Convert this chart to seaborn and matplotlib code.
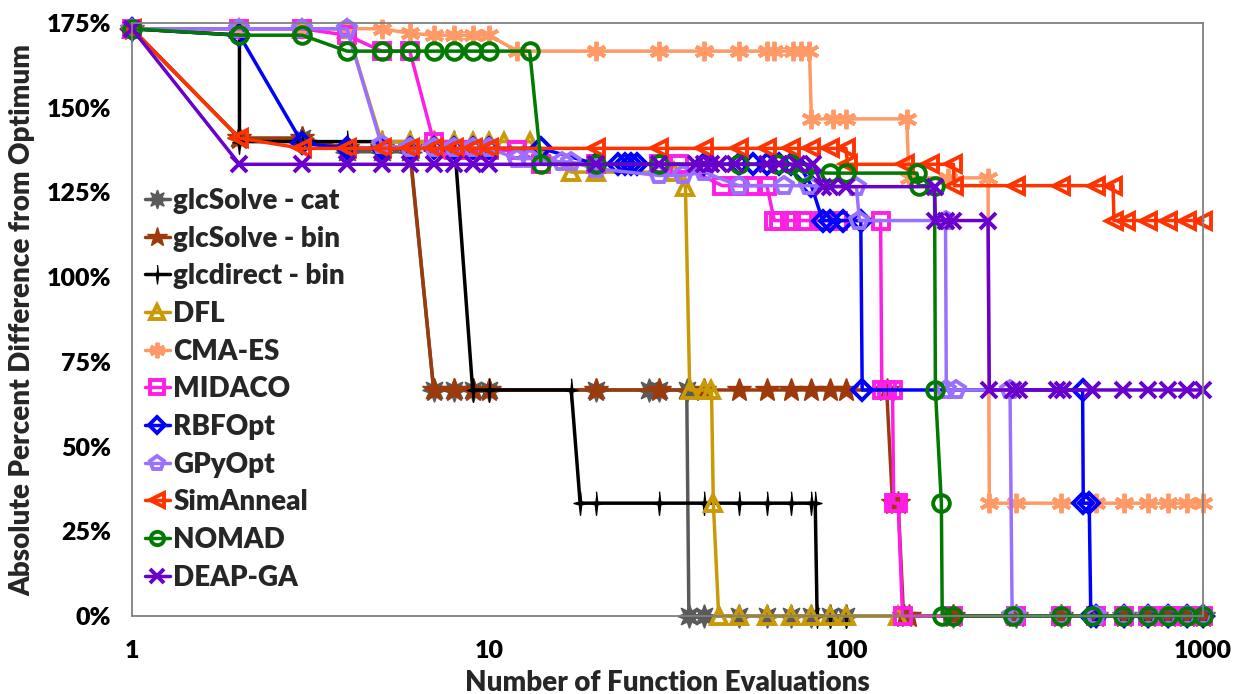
import matplotlib
matplotlib.use("Agg")
import matplotlib.pyplot as plt
import pandas as pd
import seaborn as sns

# ---- best objective value found vs. number of function evaluations (%) ----
glc_cat_x = [1, 2, 3, 4, 5, 6, 7, 8, 9, 10, 20, 28, 30, 35.8, 36.3, 40, 50, 60, 70, 80, 90, 100,
             200, 300, 400, 500, 600, 700, 800, 900, 1000]
glc_cat_y = [173.3, 141, 141, 137, 137, 137, 66.7, 66.7, 66.7, 66.7, 66.7, 66.7, 66.7, 66.7, 0, 0, 0, 0, 0, 0, 0, 0,
             0, 0, 0, 0, 0, 0, 0, 0, 0]

glc_bin_x = [1, 2, 3, 4, 5, 6, 7, 8, 9, 10, 20, 30, 40, 50, 60, 70, 80, 90, 100, 130, 135, 140, 145, 150,
             200, 300, 400, 500, 600, 700, 800, 900, 1000]
glc_bin_y = [173.3, 141, 141, 138, 138, 138, 66.7, 66.7, 66.7, 66.7, 66.7, 66.7, 66.7, 66.7, 66.7, 66.7, 66.7,
             66.7, 66.7, 66.7, 33.3, 33.3, 0, 0, 0, 0, 0, 0, 0, 0, 0, 0, 0]

glcdirect_x = [1, 2, 2, 3, 4, 5, 6, 7, 8, 9, 10, 17, 18, 20, 30, 40, 50, 60, 70, 80, 82, 83, 90, 100]
glcdirect_y = [173.3, 171.4, 140, 140, 140, 140, 140, 140, 140, 66.7, 66.7, 66.7, 33.3, 33.3, 33.3, 33.3, 33.3,
               33.3, 33.3, 33.3, 33.3, 0, 0, 0]

dfl_x = [1, 2, 3, 4, 5, 6, 7, 8, 9, 10, 11, 13, 17, 20, 33, 35.5, 36.5, 40, 42, 42.5, 44, 50, 60, 70, 80, 90,
         100, 140]
dfl_y = [173.3, 173.3, 173.3, 173.3, 140, 140, 140, 140, 140, 140, 140, 140, 131, 131, 131, 126.7, 66.7, 66.7,
         66.7, 33.3, 0, 0, 0, 0, 0, 0, 0, 0]

cma_x = [1, 2, 3, 4, 5, 6, 7, 8, 9, 10, 12, 20, 30, 40, 50, 60, 63, 71, 75, 79, 80, 92, 100, 148, 150, 193,
         250, 252, 300, 400, 500, 600, 700, 800, 900, 1000]
cma_y = [173.3, 173.3, 173.3, 173.3, 173.3, 172, 171.4, 171.4, 171.4, 171.4, 166.7, 166.7, 166.7, 166.7, 166.7,
         166.7, 166.7, 166.7, 166.7, 166.7, 146.7, 146.7, 146.7, 146.7, 129.3, 129.3, 129.3, 33.3, 33.3, 33.3,
         33.3, 33.3, 33.3, 33.3, 33.3, 33.3]

midaco_x = [1, 2, 3, 4, 5, 6, 7, 8, 9, 10, 12, 14, 20, 30, 34, 45, 50, 55, 60, 63, 65, 70, 76, 86, 95, 125,
            126, 130, 135, 136, 140, 144, 200, 300, 400, 500, 600, 700, 800, 900, 1000]
midaco_y = [173.3, 173.3, 173.3, 171.4, 166.7, 166.7, 140, 137.5, 137.5, 137.5, 137.5, 133.3, 133.3, 133.3,
            133.3, 127, 127, 127, 127, 116.7, 116.7, 116.7, 116.7, 116.7, 116.7, 116.7, 66.7, 66.7, 66.7, 33.3,
            33.3, 0, 0, 0, 0, 0, 0, 0, 0, 0, 0]

rbf_x = [1, 2, 3, 4, 5, 6, 7, 8, 9, 10, 14, 20, 23, 24, 25, 26, 40, 50, 55, 60, 65, 70, 76, 80, 86, 90, 98,
         110, 111, 460, 462, 480, 485, 500, 600, 700, 800, 900, 1000]
rbf_y = [173.3, 171.4, 139.5, 138, 138, 138, 138, 138, 138, 138, 138, 133.3, 133.3, 133.3, 133.3, 133.3, 133.3,
         133.3, 133.3, 133.3, 133.3, 133.3, 131, 127, 116.7, 116.7, 116.7, 116.7, 66.7, 66.7, 33.3, 33.3, 0, 0,
         0, 0, 0, 0, 0]

gpy_x = [1, 2, 3, 4, 5, 6, 7, 8, 9, 10, 12, 13, 16, 17, 20, 30, 35, 40, 50, 67, 79, 107, 109, 190, 191, 203,
         288, 292, 300, 400, 500, 600, 700, 800, 900, 1000]
gpy_y = [173.3, 173.3, 173.3, 173.3, 139, 138, 138, 138, 138, 138, 135, 135, 134, 134, 132, 130, 130, 131, 127,
         127, 127, 126.7, 116.7, 116.7, 66.7, 66.7, 66.7, 0, 0, 0, 0, 0, 0, 0, 0, 0]

sa_x = [1, 2, 3, 4, 5, 6, 7, 8, 9, 10, 20, 30, 40, 50, 60, 70, 80, 90, 100, 101, 146, 172, 200, 201, 300, 400,
        500, 560, 563, 610, 700, 800, 900, 1000]
sa_y = [173.3, 141, 138, 138, 138, 138, 138, 138, 138, 138, 138, 138, 138, 138, 138, 138, 138, 138, 138, 133.3,
        133.3, 133.3, 133.3, 127, 127, 127, 127, 127, 116.7, 116.7, 116.7, 116.7, 116.7, 116.7]

nomad_x = [1, 2, 3, 4, 5, 6, 7, 8, 9, 10, 13, 14, 20, 30, 50, 64, 70, 76, 90, 100, 158, 160, 177, 178, 185,
           186, 200, 293, 400, 490, 595, 700, 800, 900, 1000]
nomad_y = [173.3, 171.4, 171.4, 166.7, 166.7, 166.7, 166.7, 166.7, 166.7, 166.7, 166.7, 133.3, 133.3, 133.3,
           133.3, 133.3, 133.3, 131, 130.7, 130.7, 130.7, 127, 127, 66.7, 33.3, 0, 0, 0, 0, 0, 0, 0, 0, 0, 0]

deap_x = [1, 2, 3, 4, 5, 6, 7, 8, 9, 10, 20, 30, 38, 40, 42, 44, 49, 60, 65, 73, 81, 86, 90, 100, 177, 178,
          190, 200, 250, 252, 293, 305, 390, 405, 490, 595, 700, 800, 900, 1000]
deap_y = [173.3, 133.3, 133.3, 133.3, 133.3, 133.3, 133.3, 133.3, 133.3, 133.3, 133.3, 133.3, 133.3, 133.3,
          133.3, 133.3, 133.3, 133.3, 133.3, 133.3, 133.3, 126.7, 126.7, 126.7, 126.7, 116.7, 116.7, 116.7,
          116.7, 66.7, 66.7, 66.7, 66.7, 66.7, 66.7, 66.7, 66.7, 66.7, 66.7, 66.7]

solver_names = ["glcSolve - cat", "glcSolve - bin", "glcdirect - bin", "DFL", "CMA-ES", "MIDACO",
                "RBFOpt", "GPyOpt", "SimAnneal", "NOMAD", "DEAP-GA"]
x_ticks = [1, 10, 100, 1000]
x_tick_labels = ["1", "10", "100", "1000"]
y_ticks = [0, 25, 50, 75, 100, 125, 150, 175]

# thin four-pointed sparkle used for glcdirect
sparkle = [(0, 1), (0.1, 0.12), (0.55, 0), (0.1, -0.12), (0, -1), (-0.1, -0.12), (-0.55, 0), (-0.1, 0.12)]

styles = [
    # color, marker, filled, size
    ("#5a5a5a", (8, 1, 0), True, 17),
    ("#9c3a0c", "*", True, 18),
    ("#000000", sparkle, True, 17),
    ("#c99a06", "^", False, 12),
    ("#ff9966", (6, 2, 0), False, 14),
    ("#ff1ee6", "s", False, 12),
    ("#0000ff", "D", False, 10),
    ("#9a70ff", "p", False, 13),
    ("#ff3300", "<", False, 12),
    ("#007a00", "o", False, 12),
    ("#6a00cc", "x", False, 12),
]
series = [(glc_cat_x, glc_cat_y), (glc_bin_x, glc_bin_y), (glcdirect_x, glcdirect_y), (dfl_x, dfl_y),
          (cma_x, cma_y), (midaco_x, midaco_y), (rbf_x, rbf_y), (gpy_x, gpy_y), (sa_x, sa_y),
          (nomad_x, nomad_y), (deap_x, deap_y)]

sns.set_theme(style="white")
plt.rcParams["font.family"] = ["Lato", "DejaVu Sans"]
plt.rcParams["font.weight"] = "heavy"

fig = plt.figure(figsize=(12.37, 6.94), dpi=100)
ax = fig.add_axes([132 / 1237, 1 - 616 / 694, (1203 - 132) / 1237, (616 - 23) / 694])
ax.set_xscale("log")

for name, (xs, ys), (color, marker, filled, ms) in zip(solver_names, series, styles):
    df = pd.DataFrame({"evals": xs, "diff": ys})
    sns.lineplot(data=df, x="evals", y="diff", ax=ax, sort=False, estimator=None,
                 color=color, lw=2.5, marker=marker, markersize=ms,
                 markerfacecolor=color if filled else "none", markeredgecolor=color,
                 markeredgewidth=1.0 if filled else 2.8, label=name, clip_on=False, legend=False)

ax.set_xlim(1, 1000)
ax.set_ylim(0, 175)
ax.xaxis.set_major_locator(matplotlib.ticker.FixedLocator(x_ticks))
ax.xaxis.set_minor_locator(matplotlib.ticker.NullLocator())
ax.set_xticklabels(x_tick_labels)
ax.set_yticks(y_ticks)
ax.set_yticklabels([f"{v}%" for v in y_ticks])
ax.tick_params(axis="both", length=0, labelsize=18, colors="#000000")
ax.tick_params(axis="y", pad=15)
ax.tick_params(axis="x", pad=17)
for lab in ax.get_xticklabels() + ax.get_yticklabels():
    lab.set_fontweight("heavy")
for sp in ax.spines.values():
    sp.set_color("#808080")
    sp.set_linewidth(1.3)
ax.grid(False)

ax.set_xlabel("Number of Function Evaluations", fontsize=20, fontweight="heavy", labelpad=6)
ax.set_ylabel("Absolute Percent Difference from Optimum", fontsize=20, fontweight="heavy", labelpad=8)

handles, labels = ax.get_legend_handles_labels()
ax.legend(handles, labels, loc="upper left", bbox_to_anchor=(0.012, 0.722), frameon=False,
          prop={"size": 20, "weight": "heavy"}, handlelength=0.9, handletextpad=0.12, labelspacing=0.42,
          borderaxespad=0, borderpad=0, markerscale=0.8)

fig.savefig("out.png", dpi=100, facecolor="white")
